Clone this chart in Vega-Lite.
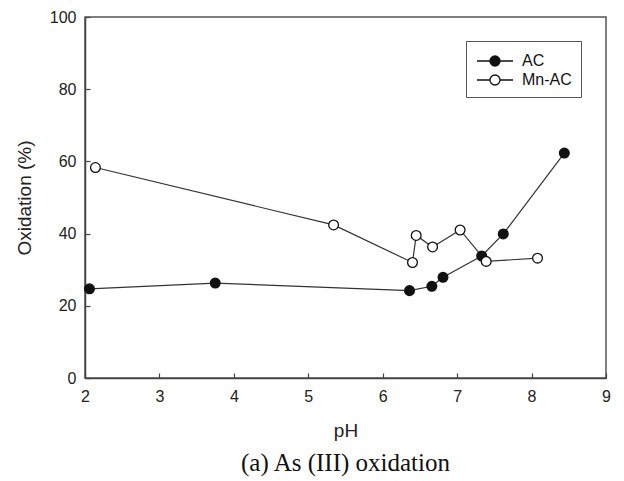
{
  "$schema": "https://vega.github.io/schema/vega-lite/v6.json",
  "width": 521,
  "height": 361,
  "autosize": "none",
  "padding": {"left": 85, "top": 17, "right": 18, "bottom": 103},
  "background": "white",
  "config": {
    "view": {"stroke": "#555", "strokeWidth": 1.5},
    "font": "Liberation Sans"
  },
  "title": {
    "text": "(a) As (III) oxidation",
    "orient": "bottom",
    "font": "Liberation Serif",
    "fontSize": 25,
    "fontWeight": "normal",
    "color": "#111",
    "anchor": "middle",
    "offset": 11
  },
  "data": {
    "values": [
      {"series": "AC", "pH": 2.06, "oxidation": 24.7},
      {"series": "AC", "pH": 3.75, "oxidation": 26.3},
      {"series": "AC", "pH": 6.36, "oxidation": 24.2},
      {"series": "AC", "pH": 6.66, "oxidation": 25.4},
      {"series": "AC", "pH": 6.81, "oxidation": 27.9},
      {"series": "AC", "pH": 7.33, "oxidation": 33.8},
      {"series": "AC", "pH": 7.62, "oxidation": 39.9},
      {"series": "AC", "pH": 8.44, "oxidation": 62.3},
      {"series": "Mn-AC", "pH": 2.14, "oxidation": 58.3},
      {"series": "Mn-AC", "pH": 5.34, "oxidation": 42.4},
      {"series": "Mn-AC", "pH": 6.40, "oxidation": 32.0},
      {"series": "Mn-AC", "pH": 6.45, "oxidation": 39.5},
      {"series": "Mn-AC", "pH": 6.67, "oxidation": 36.3},
      {"series": "Mn-AC", "pH": 7.04, "oxidation": 41.0},
      {"series": "Mn-AC", "pH": 7.39, "oxidation": 32.3},
      {"series": "Mn-AC", "pH": 8.08, "oxidation": 33.2}
    ]
  },
  "encoding": {
    "x": {
      "field": "pH",
      "type": "quantitative",
      "scale": {"domain": [2, 9], "nice": false, "zero": false},
      "axis": {
        "title": "pH",
        "values": [2, 3, 4, 5, 6, 7, 8, 9],
        "grid": false,
        "tickSize": -5,
        "tickColor": "#444",
        "tickWidth": 1.2,
        "domainColor": "#444",
        "domainWidth": 1.5,
        "labelFontSize": 16,
        "labelColor": "#222",
        "labelPadding": 15,
        "labelFlush": false,
        "titleFontSize": 19,
        "titleFontWeight": "normal",
        "titleColor": "#222",
        "titlePadding": 17
      }
    },
    "y": {
      "field": "oxidation",
      "type": "quantitative",
      "scale": {"domain": [0, 100], "nice": false},
      "axis": {
        "title": "Oxidation (%)",
        "values": [0, 20, 40, 60, 80, 100],
        "grid": false,
        "tickSize": -5,
        "tickColor": "#444",
        "tickWidth": 1.2,
        "domainColor": "#444",
        "domainWidth": 1.5,
        "labelFontSize": 16,
        "labelColor": "#222",
        "labelPadding": 14,
        "labelFlush": false,
        "titleFontSize": 19,
        "titleFontWeight": "normal",
        "titleColor": "#222",
        "titlePadding": 15
      }
    }
  },
  "layer": [
    {
      "mark": {"type": "line", "color": "#333", "strokeWidth": 1.2},
      "encoding": {
        "detail": {"field": "series", "type": "nominal"},
        "order": {"field": "pH", "type": "quantitative"}
      }
    },
    {
      "mark": {"type": "point", "shape": "circle", "size": 95, "stroke": "#111", "strokeWidth": 1.3, "opacity": 1, "filled": true},
      "encoding": {
        "fill": {
          "field": "series",
          "type": "nominal",
          "scale": {"domain": ["AC", "Mn-AC"], "range": ["#111", "white"]},
          "legend": {
            "orient": "none",
            "legendX": 381,
            "legendY": 24,
            "title": null,
            "symbolType": "M -1.8 0 H -0.5 M 0.5 0 H 1.8 M -0.5 0 A 0.5 0.5 0 1 0 0.5 0 A 0.5 0.5 0 1 0 -0.5 0 Z",
            "symbolSize": 400,
            "symbolStrokeColor": "#111",
            "symbolStrokeWidth": 1.3,
            "strokeColor": "#555",
            "padding": 9,
            "labelFontSize": 16,
            "labelFont": "Liberation Sans",
            "labelColor": "#111",
            "rowPadding": 0,
            "symbolOffset": 9,
            "labelOffset": 16
          }
        }
      }
    }
  ]
}
